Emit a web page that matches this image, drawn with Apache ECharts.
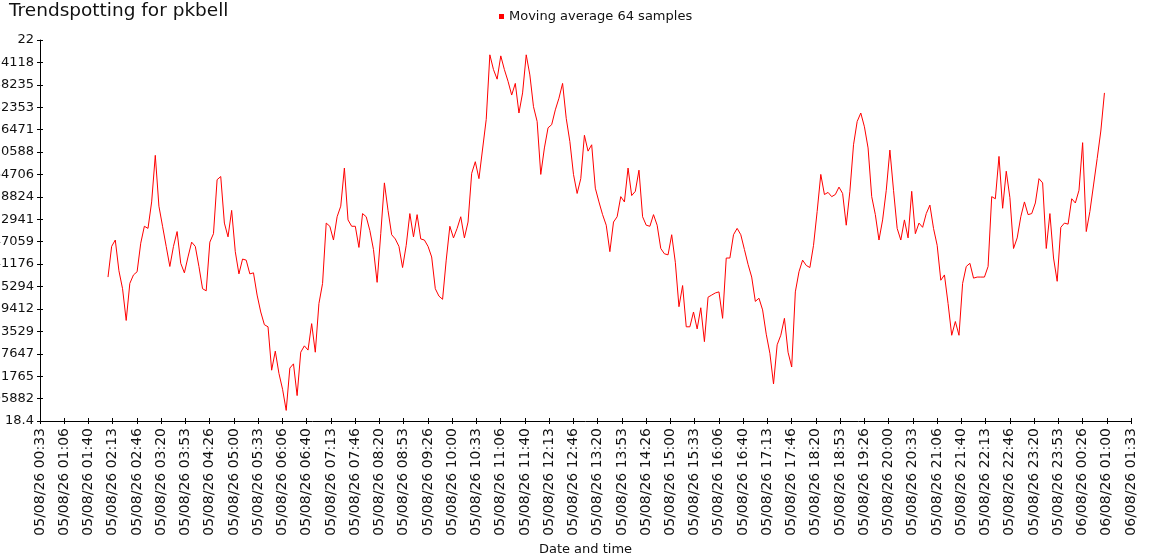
<!DOCTYPE html>
<html>
<head>
<meta charset="utf-8">
<script src="https://cdn.jsdelivr.net/npm/echarts@6/dist/echarts.min.js"></script>
<style>
html,body{margin:0;padding:0;background:#fff;}
#chart{width:1150px;height:560px;}
</style>
</head>
<body>
<div id="chart"></div>
<script>
// ---- data ----
const chartTitle = 'Trendspotting for pkbell';
const seriesName = 'Moving average 64 samples';
const axisStart = '05/08/26 00:33:30';      // first x tick
const tickStepSeconds = 2000;               // 33m20s between x ticks
const tickLabels = [
  '05/08/26 00:33','05/08/26 01:06','05/08/26 01:40','05/08/26 02:13','05/08/26 02:46',
  '05/08/26 03:20','05/08/26 03:53','05/08/26 04:26','05/08/26 05:00','05/08/26 05:33',
  '05/08/26 06:06','05/08/26 06:40','05/08/26 07:13','05/08/26 07:46','05/08/26 08:20',
  '05/08/26 08:53','05/08/26 09:26','05/08/26 10:00','05/08/26 10:33','05/08/26 11:06',
  '05/08/26 11:40','05/08/26 12:13','05/08/26 12:46','05/08/26 13:20','05/08/26 13:53',
  '05/08/26 14:26','05/08/26 15:00','05/08/26 15:33','05/08/26 16:06','05/08/26 16:40',
  '05/08/26 17:13','05/08/26 17:46','05/08/26 18:20','05/08/26 18:53','05/08/26 19:26',
  '05/08/26 20:00','05/08/26 20:33','05/08/26 21:06','05/08/26 21:40','05/08/26 22:13',
  '05/08/26 22:46','05/08/26 23:20','05/08/26 23:53','06/08/26 00:26','06/08/26 01:00',
  '06/08/26 01:33'
];
const yMin = 18.4;
const yMax = 22;
const ySteps = 17;
const sampleStart = '05/08/26 02:07:00';
const sampleStepSeconds = 300;
const values = [
  19.76,20.05,20.11,19.82,19.65,19.35,19.70,19.78,19.81,20.08,
  20.24,20.22,20.47,20.91,20.43,20.24,20.05,19.86,20.05,20.19,
  19.89,19.80,19.95,20.09,20.05,19.86,19.65,19.63,20.09,20.17,
  20.68,20.71,20.27,20.14,20.39,20.00,19.79,19.93,19.92,19.79,
  19.80,19.59,19.43,19.31,19.29,18.88,19.06,18.85,18.70,18.50,
  18.90,18.94,18.64,19.05,19.11,19.07,19.32,19.05,19.51,19.70,
  20.27,20.24,20.11,20.33,20.43,20.79,20.30,20.24,20.24,20.04,
  20.36,20.33,20.20,20.02,19.71,20.17,20.65,20.39,20.16,20.12,
  20.05,19.85,20.06,20.36,20.14,20.35,20.12,20.11,20.05,19.95,
  19.65,19.58,19.55,19.92,20.24,20.13,20.22,20.33,20.13,20.28,
  20.74,20.85,20.69,20.97,21.25,21.86,21.72,21.63,21.85,21.72,
  21.61,21.48,21.59,21.31,21.50,21.86,21.67,21.37,21.23,20.73,
  20.98,21.17,21.20,21.34,21.45,21.59,21.26,21.04,20.73,20.55,
  20.69,21.10,20.95,21.01,20.60,20.47,20.35,20.25,20.00,20.28,
  20.33,20.52,20.47,20.79,20.53,20.57,20.77,20.33,20.25,20.24,
  20.35,20.25,20.03,19.98,19.97,20.16,19.90,19.48,19.68,19.29,
  19.29,19.43,19.27,19.47,19.15,19.57,19.59,19.61,19.62,19.37,
  19.94,19.94,20.16,20.22,20.16,20.02,19.88,19.76,19.53,19.56,
  19.45,19.22,19.04,18.75,19.12,19.21,19.37,19.05,18.91,19.62,
  19.81,19.92,19.87,19.85,20.06,20.38,20.73,20.54,20.56,20.52,
  20.54,20.61,20.55,20.25,20.57,21.01,21.23,21.31,21.18,20.98,
  20.52,20.35,20.11,20.30,20.58,20.96,20.58,20.22,20.11,20.30,
  20.13,20.57,20.17,20.27,20.23,20.36,20.44,20.22,20.06,19.73,
  19.78,19.51,19.21,19.34,19.21,19.70,19.86,19.89,19.75,19.76,
  19.76,19.76,19.86,20.52,20.50,20.90,20.41,20.76,20.51,20.03,
  20.13,20.33,20.47,20.35,20.36,20.46,20.69,20.65,20.03,20.36,
  19.94,19.72,20.23,20.27,20.26,20.50,20.46,20.58,21.03,20.19,
  20.38,20.63,20.88,21.14,21.50
];

// ---- helpers ----
function parseStamp(s) {
  const m = s.match(/(\d+)\/(\d+)\/(\d+) (\d+):(\d+):?(\d+)?/);
  return Date.UTC(2000 + +m[3], +m[2] - 1, +m[1], +m[4], +m[5], +(m[6] || 0)) / 1000;
}
const t0 = parseStamp(axisStart);
const s0 = parseStamp(sampleStart) - t0;
const seriesData = values.map((v, i) => [s0 + i * sampleStepSeconds, v]);
const xMax = (tickLabels.length - 1) * tickStepSeconds;
const yInterval = (yMax - yMin) / ySteps;

const FONT = 'DejaVu Sans';
const TXT = '#111';

const chart = echarts.init(document.getElementById('chart'), null, {renderer: 'canvas'});
const option = {
  animation: false,
  backgroundColor: '#fff',
  title: {
    text: chartTitle,
    left: 9, top: 2, padding: 0,
    textStyle: {fontFamily: FONT, fontSize: 18.5, fontWeight: 'normal', color: TXT}
  },
  legend: {
    data: [{name: seriesName, icon: 'rect'}],
    left: 499, top: 10, padding: 0,
    itemWidth: 5, itemHeight: 5,
    textStyle: {fontFamily: FONT, fontSize: 13, color: TXT}
  },
  grid: {left: 40, right: 19, top: 40, bottom: 139, containLabel: false, outerBoundsMode: 'none'},
  xAxis: [{
    type: 'value', min: 0, max: xMax, interval: tickStepSeconds,
    name: 'Date and time', nameLocation: 'middle', nameGap: 115,
    nameTextStyle: {fontFamily: FONT, fontSize: 13, color: TXT},
    axisLine: {show: true, onZero: false, lineStyle: {color: '#000', width: 1}},
    axisTick: {show: true, length: 3, lineStyle: {color: '#000'}},
    axisLabel: {
      rotate: 90, margin: 7, fontFamily: FONT, fontSize: 14, color: TXT,
      formatter: v => tickLabels[Math.round(v / tickStepSeconds)] || ''
    },
    splitLine: {show: false}
  }, {
    type: 'value', min: 0, max: xMax, interval: tickStepSeconds, position: 'bottom',
    axisLine: {show: false},
    axisTick: {show: true, inside: true, length: 3, lineStyle: {color: '#000'}},
    axisLabel: {show: false}, splitLine: {show: false}
  }],
  yAxis: [{
    type: 'value', min: yMin, max: yMax, interval: yInterval,
    axisLine: {show: true, onZero: false, lineStyle: {color: '#000', width: 1}},
    axisTick: {show: true, length: 3, lineStyle: {color: '#000'}},
    axisLabel: {
      margin: 6, fontFamily: FONT, fontSize: 13, color: TXT,
      formatter: v => String(parseFloat(Number(v).toFixed(12)))
    },
    splitLine: {show: false}
  }, {
    type: 'value', min: yMin, max: yMax, interval: yInterval, position: 'left',
    axisLine: {show: false},
    axisTick: {show: true, inside: true, length: 3, lineStyle: {color: '#000'}},
    axisLabel: {show: false}, splitLine: {show: false}
  }],
  series: [{
    name: seriesName,
    type: 'line',
    xAxisIndex: 0, yAxisIndex: 0,
    data: seriesData,
    showSymbol: false,
    symbol: 'none',
    itemStyle: {color: '#ff0000'},
    lineStyle: {color: '#ff0000', width: 1},
    emphasis: {disabled: true}
  }]
};
chart.setOption(option);
</script>
</body>
</html>
